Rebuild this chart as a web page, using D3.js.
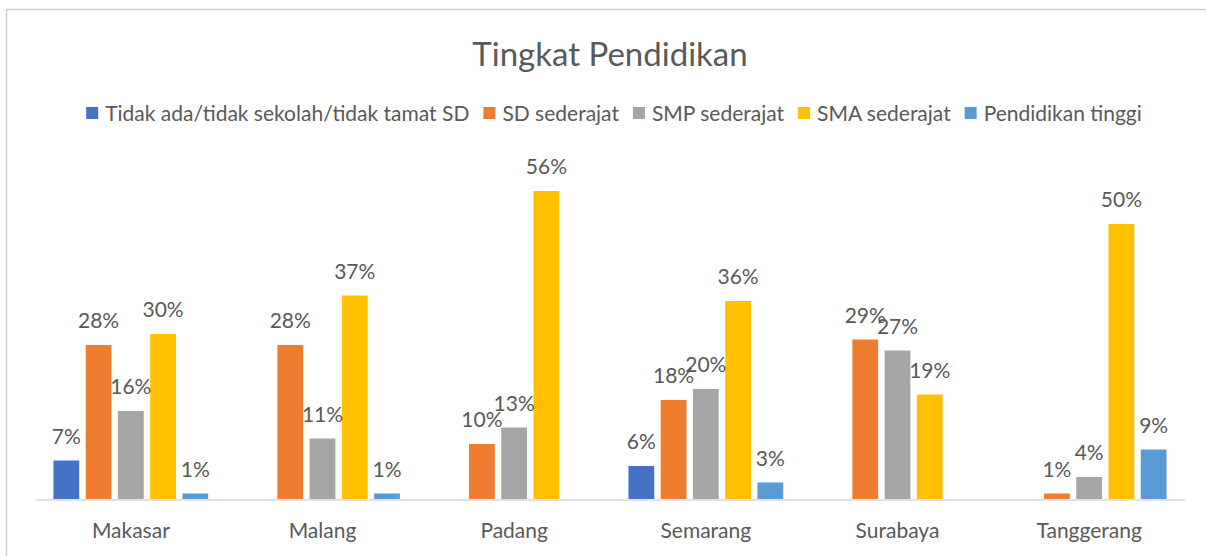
<!DOCTYPE html>
<html>
<head>
  <script src="https://d3js.org/d3.v7.min.js"></script>
  <style>
    html, body { margin: 0; padding: 0; background: #fff; overflow: hidden; }
    svg { display: block; font-family: Lato, "Noto Sans", sans-serif; }
  </style>
</head>
<body>
<script>
// Data
const CATEGORIES = ["Makasar", "Malang", "Padang", "Semarang", "Surabaya", "Tanggerang"];
const SERIES = ["Tidak ada/tidak sekolah/tidak tamat SD", "SD sederajat", "SMP sederajat", "SMA sederajat", "Pendidikan tinggi"];
const TIDAK_SEKOLAH = [7, null, null, 6, null, null];
const SD = [28, 28, 10, 18, 29, 1];
const SMP = [16, 11, 13, 20, 27, 4];
const SMA = [30, 37, 56, 36, 19, 50];
const TINGGI = [1, 1, null, 3, null, 9];
const COLORS = ["#4472C4", "#ED7D31", "#A5A5A5", "#FFC000", "#5B9BD5"];

const WIDTH = 1206, HEIGHT = 556;
const PLOT_LEFT = 35, PLOT_RIGHT = 1185, BASELINE = 499, PLOT_TOP = 169;
const TEXT_COLOR = "#595959";
const FONT = 21;

const svg = d3.select("body").append("svg")
  .attr("width", WIDTH)
  .attr("height", HEIGHT);

// Chart frame (only top and left edges are visible in the crop)
svg.append("rect")
  .attr("x", 6.5).attr("y", 9.5)
  .attr("width", WIDTH + 20).attr("height", HEIGHT + 20)
  .attr("fill", "none").attr("stroke", "#d0d0d0").attr("stroke-width", 1.5);

// Title
svg.append("text")
  .attr("x", 610).attr("y", 66)
  .attr("text-anchor", "middle")
  .attr("font-size", 33)
  .attr("fill", TEXT_COLOR)
  .text("Tingkat Pendidikan");

// Scales
const xScale = d3.scaleBand()
  .domain(CATEGORIES)
  .range([PLOT_LEFT, PLOT_RIGHT]);

const xSub = d3.scaleBand()
  .domain(SERIES)
  .range([12, xScale.bandwidth() - 12])
  .padding(0.2);

const yScale = d3.scaleLinear()
  .domain([0, 60])
  .range([BASELINE, PLOT_TOP]);

const seriesValues = [TIDAK_SEKOLAH, SD, SMP, SMA, TINGGI];

// Bars
const groups = svg.append("g").selectAll("g")
  .data(CATEGORIES)
  .join("g")
  .attr("transform", d => "translate(" + xScale(d) + ",0)");

groups.each(function(cat, ci) {
  const g = d3.select(this);
  const rows = SERIES.map((s, si) => ({ s: s, si: si, v: seriesValues[si][ci] }))
    .filter(d => d.v !== null);
  g.selectAll("rect")
    .data(rows)
    .join("rect")
    .attr("x", d => xSub(d.s))
    .attr("y", d => yScale(d.v))
    .attr("width", xSub.bandwidth())
    .attr("height", d => BASELINE - yScale(d.v))
    .attr("fill", d => COLORS[d.si]);
  g.selectAll("text")
    .data(rows)
    .join("text")
    .attr("x", d => xSub(d.s) + xSub.bandwidth() / 2)
    .attr("y", d => yScale(d.v) - 17)
    .attr("text-anchor", "middle")
    .attr("font-size", FONT)
    .attr("fill", TEXT_COLOR)
    .text(d => d.v + "%");
});

// X axis
const xAxis = svg.append("g")
  .attr("transform", "translate(0," + (BASELINE + 0.5) + ")")
  .call(d3.axisBottom(xScale).tickSize(0).tickPadding(24));
xAxis.select(".domain").attr("stroke", "#d9d9d9").attr("stroke-width", 1.5);
xAxis.selectAll("text")
  .attr("font-size", FONT)
  .attr("font-family", "Lato, 'Noto Sans', sans-serif")
  .attr("fill", TEXT_COLOR);

// Legend
const legend = svg.append("g");
const items = legend.selectAll("g")
  .data(SERIES)
  .join("g");
items.append("rect")
  .attr("width", 12).attr("height", 12)
  .attr("y", -14)
  .attr("fill", (d, i) => COLORS[i]);
items.append("text")
  .attr("x", 19)
  .attr("font-size", FONT)
  .attr("fill", TEXT_COLOR)
  .text(d => d);

let offset = 0;
items.each(function() {
  const w = d3.select(this).select("text").node().getComputedTextLength();
  d3.select(this).attr("transform", "translate(" + offset + ",0)");
  offset += 19 + w + 14;
});
offset -= 14;
legend.attr("transform", "translate(" + (614 - offset / 2) + ",121)");
</script>
</body>
</html>
